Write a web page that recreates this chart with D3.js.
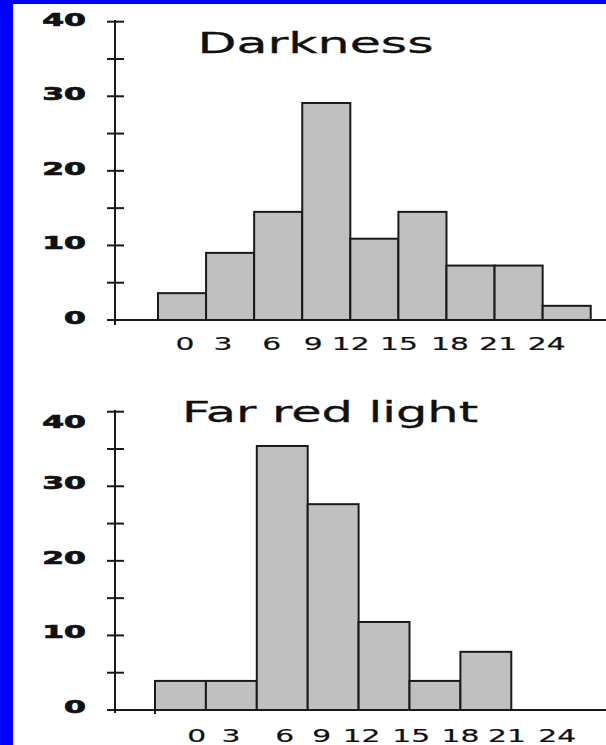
<!DOCTYPE html>
<html><head><meta charset="utf-8">
<script src="https://cdn.jsdelivr.net/npm/d3@7"></script>
<style>html,body{margin:0;padding:0;background:#fff;}svg{display:block;}</style>
</head><body>
<script>
// ---- data ----
const binStarts = [0, 3, 6, 9, 12, 15, 18, 21, 24];       // hours, bin width 3
const darknessValues = [3.6, 9.0, 14.5, 29.1, 10.9, 14.5, 7.3, 7.3, 1.9];
const farRedValues   = [3.9, 3.9, 35.4, 27.6, 11.8, 3.9, 7.8, 0, 0];
const xTickLabels = ["0", "3", "6", "9", "12", "15", "18", "21", "24"];
const yTickValues = [0, 10, 20, 30, 40];
const titles = ["Darkness", "Far red light"];

// ---- layout ----
const W = 606, H = 745;
const panels = [
  { values: darknessValues, title: titles[0], y0: 320, y40: 21.7, axisTop: 20, axisBot: 325,
    x0: 158, x27: 158 + 9 * 48.08, titleX: 315.5, titleY: 53, titleLen: 236,
    labelY: 349.5, labelDx: [27, 17, 17.5, 11, 0.4, 0.6, 3.5, 3.7, 4], yLabelDy: [4, 4, 4, 4, 4], extraTick: false },
  { values: farRedValues, title: titles[1], y0: 710, y40: 411.7, axisTop: 410, axisBot: 713,
    x0: 155, x27: 155 + 9 * 50.9, titleX: 330, titleY: 422, titleLen: 296,
    labelY: 742, labelDx: [41.7, 25, 28, 14, 3, 1.7, 0, -4.3, -5], yLabelDy: [3, 3, 3, 3, 16.5], extraTick: true }
];

const svg = d3.select("body").append("svg").attr("width", W).attr("height", H);
svg.append("rect").attr("width", W).attr("height", H).attr("fill", "#0000ff");
svg.append("rect").attr("x", 13).attr("y", 4).attr("width", W - 13).attr("height", H - 4).attr("fill", "#fff");

const ink = "#1a1a1a";
const font = "DejaVu Sans, Verdana, sans-serif";

panels.forEach(p => {
  const g = svg.append("g");
  const x = d3.scaleLinear().domain([0, 27]).range([p.x0, p.x27]);
  const y = d3.scaleLinear().domain([0, 40]).range([p.y0, p.y40]);

  // baseline
  g.append("line").attr("x1", 115).attr("x2", W).attr("y1", y(0)).attr("y2", y(0))
    .attr("stroke", ink).attr("stroke-width", 2);

  // bars
  g.selectAll("rect.bar").data(p.values.map((v, i) => ({ v, s: binStarts[i] })).filter(d => d.v > 0))
    .join("rect").attr("class", "bar")
    .attr("x", d => x(d.s)).attr("width", d => x(d.s + 3) - x(d.s))
    .attr("y", d => y(d.v)).attr("height", d => y(0) - y(d.v))
    .attr("fill", "#c0c0c0").attr("stroke", ink).attr("stroke-width", 2);

  if (p.extraTick) {
    g.append("line").attr("x1", x(0)).attr("x2", x(0)).attr("y1", y(0)).attr("y2", y(0) + 4)
      .attr("stroke", ink).attr("stroke-width", 2);
  }

  // y axis line
  g.append("line").attr("x1", 115).attr("x2", 115).attr("y1", p.axisTop).attr("y2", p.axisBot)
    .attr("stroke", ink).attr("stroke-width", 2);
  // ticks every 5
  const ticks = d3.range(0, 41, 5);
  g.selectAll("line.tick").data(ticks).join("line").attr("class", "tick")
    .attr("x1", 107).attr("x2", 124).attr("y1", d => y(d)).attr("y2", d => y(d))
    .attr("stroke", ink).attr("stroke-width", 2);

  // y labels (bold, horizontally stretched)
  g.selectAll("text.ylab").data(yTickValues).join("text").attr("class", "ylab")
    .attr("transform", (d, i) => `translate(86,${y(d) + p.yLabelDy[i]}) scale(1.85,1)`)
    .attr("text-anchor", "end").attr("font-family", font).attr("font-weight", "bold")
    .attr("font-size", 17).attr("fill", "#111").attr("stroke", "#111").attr("stroke-width", 0.7)
    .text(d => d);

  // x labels
  g.selectAll("text.xlab").data(xTickLabels).join("text").attr("class", "xlab")
    .attr("transform", (d, i) => `translate(${x(binStarts[i]) + p.labelDx[i]},${p.labelY}) scale(1.7,1)`)
    .attr("text-anchor", "middle").attr("font-family", font)
    .attr("font-size", 17.5).attr("fill", "#111").attr("stroke", "#111").attr("stroke-width", 0.2)
    .text(d => d);

  // title
  g.append("text").attr("x", p.titleX).attr("y", p.titleY)
    .attr("text-anchor", "middle").attr("font-family", font).attr("font-size", 28)
    .attr("textLength", p.titleLen).attr("lengthAdjust", "spacingAndGlyphs")
    .attr("fill", "#111").attr("stroke", "#111").attr("stroke-width", 0.3).text(p.title);
});
</script>
</body></html>
